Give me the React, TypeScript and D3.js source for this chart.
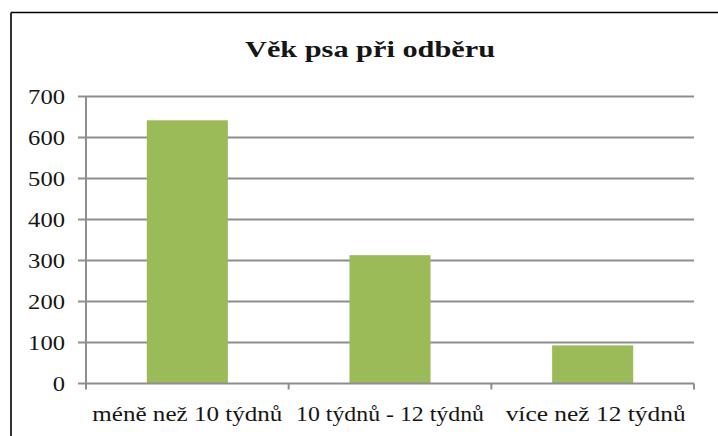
import React from "react";
import * as d3 from "d3";

const title = "Věk psa při odběru";
const categories = ["méně než 10 týdnů", "10 týdnů - 12 týdnů", "více než 12 týdnů"];
const values = [642, 313, 93];
const yTicks = [0, 100, 200, 300, 400, 500, 600, 700];
const labelWidths = [190, 188, 180];

const W = 718;
const H = 436;
const left = 86;
const right = 694;
const top = 96.5;
const bottom = 383.5;

export default function App() {
  const y = d3.scaleLinear().domain([0, 700]).range([bottom, top]);
  const x = d3
    .scaleBand<string>()
    .domain(categories)
    .range([left, right])
    .paddingInner(0.6)
    .paddingOuter(0.3);
  const step = x.step();
  const boundaries = d3.range(categories.length + 1).map((i) => left + i * step);
  const font = "Liberation Serif";
  const grid = "#8e8e8e";
  const ink = "#151515";

  return (
    <svg
      width={W}
      height={H}
      style={{ position: "absolute", left: 0, top: 0, background: "#fff" }}
    >
      <rect x={0} y={0} width={W} height={H} fill="#fff" />
      <line x1={11} y1={12.5} x2={W} y2={12.5} stroke="#000" strokeWidth={1.6} />
      <line x1={11} y1={12.5} x2={11} y2={H} stroke="#000" strokeWidth={1.6} />

      <text
        x={245}
        y={56.5}
        fontFamily={font}
        fontWeight="bold"
        fontSize={24}
        fill={ink}
        textLength={250}
        lengthAdjust="spacingAndGlyphs"
      >
        {title}
      </text>

      {yTicks.map((t) => {
        const label = String(t);
        return (
          <g key={t}>
            {t > 0 && (
              <line x1={left} x2={right} y1={y(t)} y2={y(t)} stroke={grid} strokeWidth={2} />
            )}
            <line x1={78} x2={left} y1={y(t)} y2={y(t)} stroke={grid} strokeWidth={2} />
            <text
              x={65}
              y={y(t)}
              dy="0.35em"
              textAnchor="end"
              fontFamily={font}
              fontSize={22}
              fill={ink}
              textLength={12.3 * label.length}
              lengthAdjust="spacingAndGlyphs"
            >
              {label}
            </text>
          </g>
        );
      })}

      {categories.map((c, i) => (
        <rect
          key={c}
          x={x(c)}
          y={y(values[i])}
          width={x.bandwidth()}
          height={y(0) - y(values[i])}
          fill="#9bbb59"
        />
      ))}

      <line x1={left} x2={left} y1={top} y2={bottom} stroke={grid} strokeWidth={2} />
      <line x1={left} x2={right} y1={bottom} y2={bottom} stroke={grid} strokeWidth={2} />
      {boundaries.map((b, i) => (
        <line key={i} x1={b} x2={b} y1={bottom} y2={bottom + 6} stroke={grid} strokeWidth={2} />
      ))}

      {categories.map((c, i) => (
        <text
          key={c}
          x={(x(c) as number) + x.bandwidth() / 2 + (i === 2 ? 3 : 0)}
          y={420.5}
          textAnchor="middle"
          fontFamily={font}
          fontSize={21}
          fill={ink}
          textLength={labelWidths[i]}
          lengthAdjust="spacingAndGlyphs"
        >
          {c}
        </text>
      ))}
    </svg>
  );
}
